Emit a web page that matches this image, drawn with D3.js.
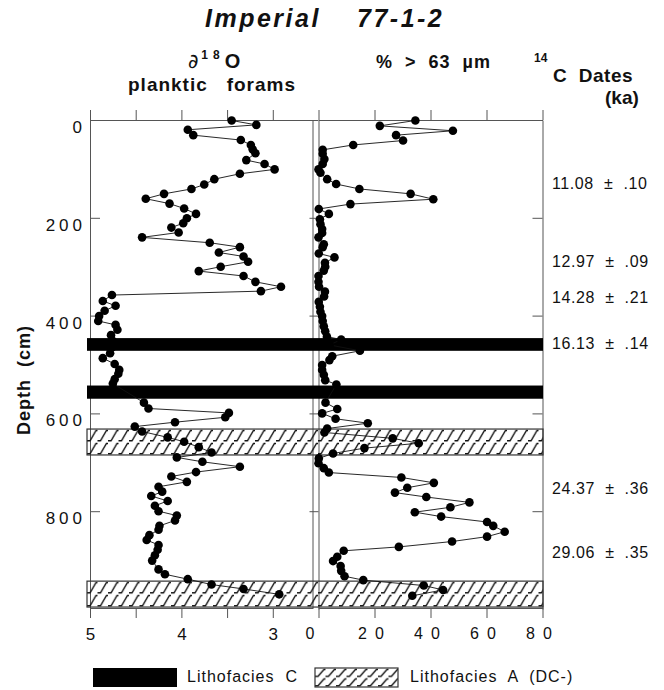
<!DOCTYPE html>
<html>
<head>
<meta charset="utf-8">
<script src="https://cdn.jsdelivr.net/npm/d3@7"></script>
<style>
  body { margin: 0; background: #fff; }
  text { font-family: "Liberation Sans", Arial, sans-serif; fill: #111; }
</style>
</head>
<body>
<div id="chart"></div>
<script>
// delta 18O of planktic forams, by depth (cm)
const o18Depth = [1, 10, 20, 31, 41, 51, 60, 68, 82, 90, 101, 110, 121, 132, 141, 151, 161, 171, 181, 192,
  201, 211, 220, 230, 240, 251, 260, 271, 279, 290, 300, 309, 319, 331, 341, 350, 358, 370, 380, 390,
  401, 411, 419, 429, 440, 452, 465, 477, 487, 499, 511, 519, 530, 539, 578, 590, 599, 608, 618, 627,
  637, 649, 658, 669, 680, 690, 699, 709, 720, 729, 740, 750, 760, 769, 779, 789, 800, 809, 819, 830,
  838, 849, 859, 869, 879, 890, 901, 919, 929, 939, 950, 959, 970];
const o18Value = [3.45, 3.18, 3.93, 3.87, 3.35, 3.24, 3.22, 3.19, 3.29, 3.09, 2.98, 3.36, 3.64, 3.75, 3.89, 4.19, 4.39, 4.13, 3.97, 3.84,
  3.94, 3.98, 4.11, 4.03, 4.43, 3.69, 3.36, 3.59, 3.32, 3.27, 3.57, 3.81, 3.32, 3.19, 2.91, 3.13, 4.76, 4.86, 4.72, 4.84,
  4.90, 4.91, 4.72, 4.70, 4.77, 4.75, 4.76, 4.78, 4.86, 4.73, 4.68, 4.69, 4.73, 4.75, 4.41, 4.36, 3.48, 3.52, 4.07, 4.51,
  4.43, 4.15, 3.97, 3.81, 3.67, 4.05, 3.77, 3.36, 3.84, 4.11, 3.94, 4.25, 4.21, 4.33, 4.15, 4.29, 4.25, 4.05, 4.07, 4.24,
  4.25, 4.35, 4.38, 4.25, 4.26, 4.29, 4.32, 4.25, 4.18, 3.93, 3.67, 3.32, 2.93];

// % > 63 um, by depth (cm)
const sandDepth = [1, 12, 22, 31, 42, 51, 61, 69, 80, 90, 101, 108, 121, 131, 141, 151, 162, 172, 182, 192,
  203, 213, 223, 231, 240, 254, 260, 273, 281, 292, 300, 308, 319, 331, 341, 351, 361, 372, 382, 392,
  401, 411, 422, 432, 443, 449, 460, 472, 483, 491, 501, 511, 521, 532, 541, 578, 591, 600, 611, 620,
  631, 639, 651, 661, 671, 682, 692, 702, 712, 721, 731, 742, 752, 762, 771, 782, 792, 802, 811, 822,
  830, 842, 852, 862, 873, 881, 893, 902, 912, 922, 933, 941, 952, 961, 973];
const sandPct = [34.6, 21.9, 48, 27.7, 30.2, 12.4, 1.5, 1.5, 2.1, 1.5, 0, 0.7, 3.1, 6.3, 14.6, 32.9, 41, 11.4, 0.1, 3.7,
  0.5, 0.7, 1.3, 1.3, 0, 1.9, 1.5, 0.1, 5.7, 2.3, 2.4, 1.9, 0, 0, 0.2, 2.3, 2, 0.1, 0.5, 0.7,
  1.3, 1.5, 1.9, 2.4, 3, 8.1, 4, 14.8, 4.9, 3.9, 1.3, 1.3, 1.9, 2.4, 6.4, 2.5, 6.7, 1.3, 6.1, 17.6,
  3.1, 2.1, 26.5, 35.8, 16.4, 5.2, 0.1, 0, 1.9, 3.7, 29.6, 41.2, 31.7, 27.3, 38.5, 53.9, 47.1, 34.4, 43.8, 60.2,
  62.4, 66.5, 60.2, 47.7, 28.7, 9, 6.7, 5.2, 7.9, 8.1, 9.3, 16, 37.6, 44.5, 33.5];

// lithofacies intervals (cm)
const faciesC = [[446, 472], [543, 570]];
const faciesA = [[632, 685], [943, 996]];

// 14C dates and where they sit (cm)
const dateDepth = [129, 290, 362, 456, 753, 885];
const dateLabel = ["11.08  \u00b1  .10", "12.97  \u00b1  .09", "14.28  \u00b1  .21", "16.13  \u00b1  .14", "24.37  \u00b1  .36", "29.06  \u00b1  .35"];

const depthTicks = [0, 200, 400, 600, 800];
const o18Ticks = [5, 4.5, 4, 3.5, 3];
const o18Labels = [5, 4, 3];
const sandTicks = [0, 20, 40, 60, 80];

const svg = d3.select("#chart").append("svg")
  .attr("width", 664)
  .attr("height", 690);

const y = d3.scaleLinear().domain([0, 1000]).range([120, 609]);
const xO = d3.scaleLinear().domain([5, 2.56]).range([90, 313]);
const xS = d3.scaleLinear().domain([0, 80]).range([318.5, 542.5]);

const frame = "#555";

// hatch patterns, one per band so the rows line up
const defs = svg.append("defs");
function hatch(id, left, top, h) {
  const r = h / 2;
  const p = defs.append("pattern")
    .attr("id", id)
    .attr("patternUnits", "userSpaceOnUse")
    .attr("x", left).attr("y", top)
    .attr("width", 10.5).attr("height", r);
  p.append("path")
    .attr("d", `M-0.5,${r - 1.2} L3,${r - 1.2} L9,1.5 L11,1.5`)
    .attr("fill", "none")
    .attr("stroke", "#111")
    .attr("stroke-width", 1.4);
}

// axes
function styleAxis(g) {
  g.selectAll("path, line").attr("stroke", frame).attr("stroke-width", 1);
}

svg.append("g").attr("transform", "translate(0,120)")
  .call(d3.axisTop(xO).tickValues(o18Ticks).tickSize(10).tickSizeOuter(0).tickFormat(""))
  .call(styleAxis);
svg.append("g").attr("transform", "translate(0,120)")
  .call(d3.axisTop(xS).tickValues(sandTicks).tickSize(10).tickSizeOuter(0).tickFormat(""))
  .call(styleAxis);

const bl = svg.append("g").attr("transform", "translate(0,608)")
  .call(d3.axisBottom(xO).tickValues(o18Ticks).tickSize(10).tickSizeOuter(0)
    .tickFormat(d => o18Labels.includes(d) ? d : ""))
  .call(styleAxis);
const br = svg.append("g").attr("transform", "translate(0,608)")
  .call(d3.axisBottom(xS).tickValues(sandTicks).tickSize(10).tickSizeOuter(0).tickFormat(d3.format("d")))
  .call(styleAxis);
bl.selectAll("text").attr("y", 20).attr("dy", "0.71em").style("font-size", "17px").attr("fill", "#111");
br.selectAll("text").attr("y", 20).attr("dy", "0.71em").style("font-size", "16px")
  .style("letter-spacing", "8px").attr("fill", "#111");
br.selectAll(".tick").filter(d => d === 0).select("text").attr("x", -5);

const yl = svg.append("g").attr("transform", "translate(90,0)")
  .call(d3.axisLeft(y).tickValues(depthTicks).tickSize(-10).tickSizeOuter(0).tickPadding(4))
  .call(styleAxis);
yl.selectAll("text").attr("dy", "0.32em").attr("y", 7)
  .style("font-size", "17px").style("letter-spacing", "4px").attr("fill", "#111");

svg.append("g").attr("transform", "translate(318.5,0)")
  .call(d3.axisLeft(y).tickValues(depthTicks).tickSize(9).tickSizeOuter(0).tickFormat(""))
  .call(styleAxis);
svg.append("g").attr("transform", "translate(542.5,0)")
  .call(d3.axisLeft(y).tickValues(depthTicks).tickSize(10).tickSizeOuter(0).tickFormat(""))
  .call(styleAxis);

svg.append("line")
  .attr("x1", xO.range()[1]).attr("x2", xO.range()[1])
  .attr("y1", 120).attr("y2", 608)
  .attr("stroke", frame);

// lithofacies bands
svg.append("g").selectAll("rect").data(faciesC).join("rect")
  .attr("x", 87).attr("width", 456)
  .attr("y", d => y(d[0]))
  .attr("height", d => y(d[1]) - y(d[0]))
  .attr("fill", "#000");

faciesA.forEach((d, i) => {
  const top = y(d[0]);
  const h = y(d[1]) - top;
  hatch("hatchA" + i, 87, top, h);
  svg.append("rect")
    .attr("x", 87).attr("width", 456)
    .attr("y", top).attr("height", h)
    .attr("fill", `url(#hatchA${i})`)
    .attr("stroke", "#333").attr("stroke-width", 1.2);
});

// series
function series(depths, values, x) {
  const pts = depths.map((d, i) => [x(values[i]), y(d)]);
  svg.append("path")
    .attr("d", d3.line()(pts))
    .attr("fill", "none")
    .attr("stroke", "#111")
    .attr("stroke-width", 0.9);
  svg.append("g").selectAll("circle").data(pts).join("circle")
    .attr("cx", d => d[0]).attr("cy", d => d[1])
    .attr("r", 4.3)
    .attr("fill", "#000");
}
series(o18Depth, o18Value, xO);
series(sandDepth, sandPct, xS);

// 14C dates
svg.append("g").selectAll("text").data(dateLabel).join("text")
  .attr("x", 552)
  .attr("y", (d, i) => y(dateDepth[i]))
  .attr("dy", "0.35em")
  .style("font-size", "16px")
  .style("white-space", "pre")
  .style("letter-spacing", "0.6px")
  .text(d => d);

// headers
const title = svg.append("g").style("font-size", "25px").style("font-weight", "bold")
  .style("font-style", "italic").style("letter-spacing", "2.5px");
title.append("text").attr("x", 205).attr("y", 27).text("Imperial");
title.append("text").attr("x", 357).attr("y", 27).text("77-1-2");

const h1 = svg.append("text").attr("x", 188).attr("y", 68);
h1.append("tspan").style("font-size", "20px").style("font-family", "'DejaVu Sans'").text("\u2202");
h1.append("tspan").attr("dx", 3).attr("dy", -9).style("font-size", "12px").style("font-weight", "bold")
  .style("letter-spacing", "5px").text("18");
h1.append("tspan").attr("dy", 9).style("font-size", "20px").style("font-weight", "bold").text("O");

svg.append("text").attr("x", 128).attr("y", 91)
  .style("font-size", "19px").style("font-weight", "bold").style("letter-spacing", "1px")
  .style("white-space", "pre")
  .text("planktic   forams");

svg.append("text").attr("x", 376).attr("y", 68)
  .style("font-size", "18px").style("font-weight", "bold").style("letter-spacing", "1px")
  .style("white-space", "pre")
  .text("%  >  63  \u00b5m");

const h3 = svg.append("text").attr("x", 534).attr("y", 62);
h3.append("tspan").style("font-size", "12px").style("font-weight", "bold").text("14");
h3.append("tspan").attr("x", 553).attr("y", 82).style("font-size", "19px").style("font-weight", "bold")
  .style("white-space", "pre").style("letter-spacing", "0.5px").text("C  Dates");
svg.append("text").attr("x", 605).attr("y", 104)
  .style("font-size", "19px").style("font-weight", "bold").text("(ka)");

svg.append("text")
  .attr("transform", "translate(30,380) rotate(-90)")
  .attr("text-anchor", "middle")
  .style("font-size", "18px").style("font-weight", "bold").style("letter-spacing", "1px")
  .style("white-space", "pre")
  .text("Depth  (cm)");

// legend
svg.append("rect").attr("x", 93).attr("y", 668).attr("width", 84).attr("height", 19).attr("fill", "#000");
svg.append("text").attr("x", 187).attr("y", 682)
  .style("font-size", "16px").style("letter-spacing", "1px").style("white-space", "pre")
  .text("Lithofacies  C");
hatch("hatchLeg", 315, 668, 19);
svg.append("rect").attr("x", 315).attr("y", 668).attr("width", 83).attr("height", 19)
  .attr("fill", "url(#hatchLeg)").attr("stroke", "#333").attr("stroke-width", 1.2);
svg.append("text").attr("x", 410).attr("y", 682)
  .style("font-size", "16px").style("letter-spacing", "1px").style("white-space", "pre")
  .text("Lithofacies  A  (DC-)");
</script>
</body>
</html>
